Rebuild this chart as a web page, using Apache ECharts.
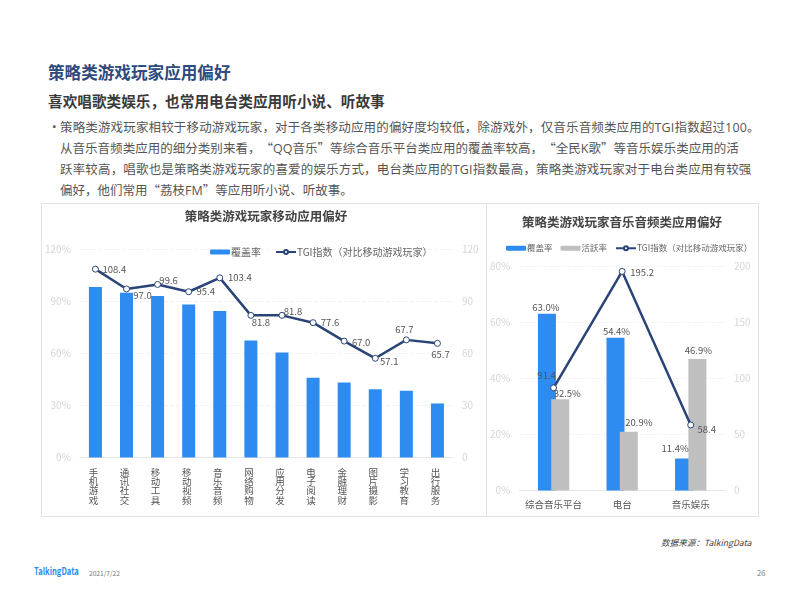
<!DOCTYPE html>
<html lang="zh-CN">
<head>
<meta charset="utf-8">
<title>策略类游戏玩家应用偏好</title>
<script src="https://cdn.jsdelivr.net/npm/echarts@6/dist/echarts.min.js"></script>
<style>
    html, body { margin: 0; padding: 0; background: #fff; }
    body { width: 799px; height: 599px; position: relative; overflow: hidden; font-family: "Noto Sans CJK SC", sans-serif; text-spacing-trim: space-all; }
    .txt { position: absolute; white-space: nowrap; }
    .box { position: absolute; box-sizing: border-box; border: 1px solid #e3e3e3; }
    .la { font-family: "Open Sans", sans-serif; }
    #chart1 { left: 41px; top: 203px; width: 446px; height: 314px; }
    #chart2 { left: 486px; top: 203px; width: 273px; height: 314px; }
</style>
</head>
<body>
<div class="txt" style="left:48px;top:58.5px;font-size:16.6px;line-height:26px;font-weight:bold;color:#2f4a7c">策略类游戏玩家应用偏好</div>
<div class="txt" style="left:48px;top:88.5px;font-size:14.65px;line-height:24px;font-weight:bold;color:#3a3a3a">喜欢唱歌类娱乐，也常用电台类应用听小说、听故事</div>
<div class="txt" style="left:48px;top:117px;font-size:12.5px;line-height:20px;color:#555">•</div>
<div class="txt" style="left:60px;top:117px;font-size:12.5px;line-height:20px;color:#555"><span style="letter-spacing:0.15px">策略类游戏玩家相较于移动游戏玩家，对于各类移动应用的偏好度均较低，除游戏外，仅音乐音频类应用的<span class="la">TGI</span>指数超过<span class="la">100</span>。</span><br><span style="letter-spacing:0.03px">从音乐音频类应用的细分类别来看，“<span class="la">QQ</span>音乐”等综合音乐平台类应用的覆盖率较高，“全民<span class="la">K</span>歌”等音乐娱乐类应用的活</span><br><span style="letter-spacing:0.17px">跃率较高，唱歌也是策略类游戏玩家的喜爱的娱乐方式，电台类应用的<span class="la">TGI</span>指数最高，策略类游戏玩家对于电台类应用有较强</span><br>偏好，他们常用“荔枝<span class="la">FM</span>”等应用听小说、听故事。</div>

<div id="chart1" class="box"></div>
<div id="chart2" class="box"></div>

<div class="txt" style="left:661px;top:535px;font-size:8.6px;line-height:14px;font-style:italic;color:#444">数据来源：TalkingData</div>
<div class="txt" style="left:34px;top:564px;font-size:10px;line-height:14px;font-weight:bold;color:#2e8bef;transform:scaleX(0.76);transform-origin:left">TalkingData</div>
<div class="txt" style="left:89px;top:567px;font-size:6.6px;line-height:12px;color:#777">2021/7/22</div>
<div class="txt" style="left:757px;top:567px;font-size:7.5px;line-height:12px;color:#777">26</div>

<script>
// 移动应用偏好
var appNames = ['手机游戏', '通讯社交', '移动工具', '移动视频', '音乐音频', '网络购物', '应用分发', '电子阅读', '金融理财', '图片摄影', '学习教育', '出行服务'];
var appCover = [98.1, 94.8, 92.9, 88.1, 84.3, 67.4, 60.5, 45.9, 43.2, 39.3, 38.4, 31.1];
var appTgi = [108.4, 97.0, 99.6, 95.4, 103.4, 81.8, 81.8, 77.6, 67.0, 57.1, 67.7, 65.7];
// 音乐音频类应用偏好
var musicNames = ['综合音乐平台', '电台', '音乐娱乐'];
var musicCover = [63.0, 54.4, 11.4];
var musicActive = [32.5, 20.9, 46.9];
var musicTgi = [91.4, 195.2, 58.4];

// label offsets, same order as the points
var appTgiOffset = [[19, 0], [16, 6], [11, -4], [17, 0], [20, 0], [10, 7], [11, -4], [17, 0], [17, 1], [14, 3], [-2, -10], [3, 11]];
var musicTgiOffset = [[-7, -13], [20, 1], [16, 4]];
var musicCoverOffset = [[-1, -1], [1, -1], [-9, -4]];
var musicActiveOffset = [[7, 0], [10, -4], [1, -3]];

var lineName = 'TGI指数（对比移动游戏玩家）';
var axisGray = '#d6d6d6';

function yAxisOf(max, interval, fmt) {
    return {
        type: 'value', min: 0, max: max, interval: interval,
        axisLine: { show: false }, axisTick: { show: false },
        axisLabel: { color: axisGray, fontSize: 10, margin: 9, formatter: fmt },
        splitLine: { lineStyle: { color: '#f3f3f3', type: 'dashed' } }
    };
}

function tgiSeries(values, offsets) {
    return {
        name: lineName, type: 'line', yAxisIndex: 1,
        symbol: 'circle', symbolSize: 6, showAllSymbol: true, z: 5,
        lineStyle: { color: '#2b4478', width: 2.5 },
        itemStyle: { color: '#fff', borderColor: '#2b4478', borderWidth: 1 },
        label: { show: true, fontSize: 9.5, color: '#555', position: 'inside' },
        data: values.map(function (v, i) {
            return { value: v, label: { offset: offsets[i], formatter: v.toFixed(1) } };
        })
    };
}

function barData(values, offsets) {
    return values.map(function (v, i) {
        return { value: v, label: { offset: offsets[i] } };
    });
}

var percentLabel = {
    show: true, position: 'top', distance: 1, fontSize: 9.5, color: '#555',
    formatter: function (p) { return p.value.toFixed(1) + '%'; }
};

var chart1 = echarts.init(document.getElementById('chart1'));
chart1.setOption({
    animation: false,
    textStyle: { fontFamily: 'Noto Sans CJK SC' },
    title: {
        text: '策略类游戏玩家移动应用偏好', left: 219, top: 1, textAlign: 'center',
        textStyle: { fontSize: 12.5, fontWeight: 'bold', color: '#444' }
    },
    legend: {
        left: 163, top: 38, itemWidth: 20, itemHeight: 5, itemGap: 14,
        textStyle: { fontSize: 10, color: '#666', padding: [0, 0, 0, -4] },
        data: ['覆盖率', lineName]
    },
    grid: { left: 36, right: 33, top: 45, height: 208.5 },
    xAxis: {
        type: 'category', data: appNames,
        axisLine: { lineStyle: { color: '#e6e6e6' } }, axisTick: { show: false },
        axisLabel: {
            color: '#555', fontSize: 9.5, lineHeight: 9.3, margin: 10, interval: 0, padding: [0, 4, 0, 0],
            formatter: function (s) { return s.split('').join('\n'); }
        }
    },
    yAxis: [
        yAxisOf(120, 30, '{value}%'),
        yAxisOf(120, 30, '{value}')
    ],
    series: [
        { name: '覆盖率', type: 'bar', barWidth: 13, itemStyle: { color: '#2e8bef' }, data: appCover },
        tgiSeries(appTgi, appTgiOffset)
    ]
});

var chart2 = echarts.init(document.getElementById('chart2'));
chart2.setOption({
    animation: false,
    textStyle: { fontFamily: 'Noto Sans CJK SC' },
    title: {
        text: '策略类游戏玩家音乐音频类应用偏好', left: 130, top: 7, textAlign: 'center',
        textStyle: { fontSize: 12.5, fontWeight: 'bold', color: '#444' }
    },
    legend: {
        left: 19, top: 40, padding: 0, width: 255, itemWidth: 20, itemHeight: 5, itemGap: 8,
        textStyle: { fontSize: 8.5, color: '#666', padding: [0, 0, 0, -4] },
        data: ['覆盖率', '活跃率', lineName]
    },
    grid: { left: 32, right: 33, top: 62, height: 224.5 },
    xAxis: {
        type: 'category', data: musicNames,
        axisLine: { lineStyle: { color: '#e6e6e6' } }, axisTick: { show: false },
        axisLabel: { color: '#555', fontSize: 9.5, margin: 9, interval: 0 }
    },
    yAxis: [
        yAxisOf(80, 20, '{value}%'),
        yAxisOf(200, 50, '{value}')
    ],
    series: [
        {
            name: '覆盖率', type: 'bar', barWidth: 18, barGap: '-26%', itemStyle: { color: '#2e8bef' },
            label: percentLabel, data: barData(musicCover, musicCoverOffset)
        },
        {
            name: '活跃率', type: 'bar', barWidth: 18, itemStyle: { color: '#bfbfbf' },
            label: percentLabel, data: barData(musicActive, musicActiveOffset)
        },
        tgiSeries(musicTgi, musicTgiOffset)
    ]
});
</script>
</body>
</html>
